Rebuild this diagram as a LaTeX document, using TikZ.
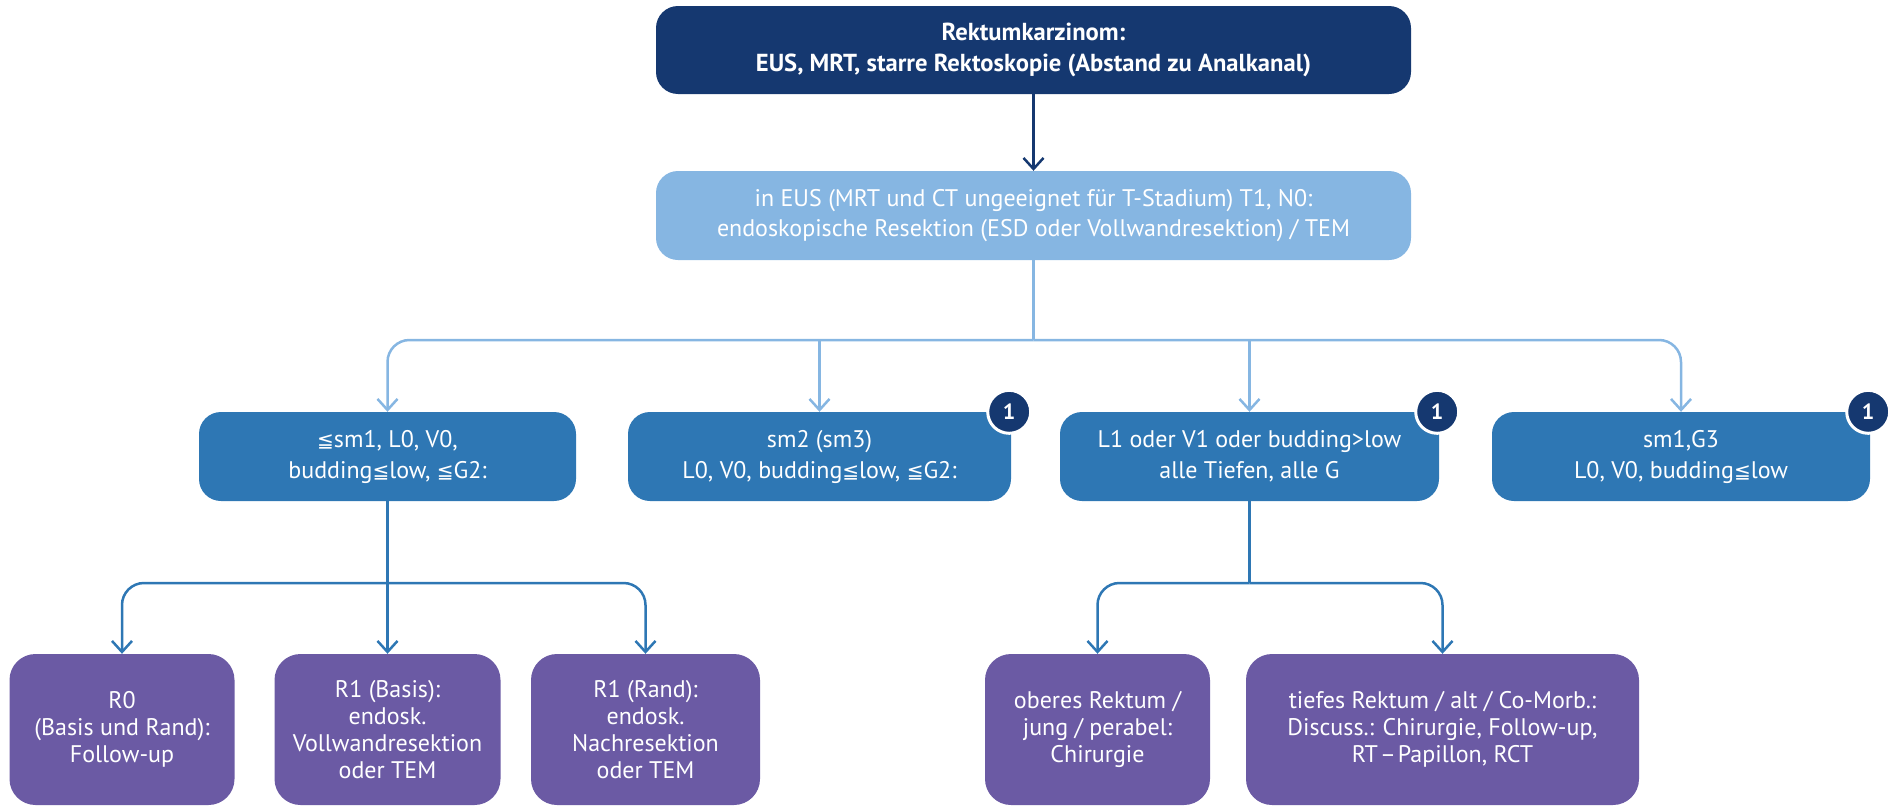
\documentclass[tikz,border=0pt]{standalone}
\usepackage{fontspec}
\setmainfont{PT Sans}
\newfontfamily\symf{DejaVu Sans}
\usetikzlibrary{arrows.meta}

\definecolor{navy}{HTML}{153870}
\definecolor{skyblue}{HTML}{86B6E2}
\definecolor{midblue}{HTML}{2E77B4}
\definecolor{violet}{HTML}{6B5AA4}

% "less than or equal" sign with double bar
\newcommand{\lessdbl}{{\symf\fontsize{20}{20}\selectfont ≦}}

\tikzset{
  basebox/.style={rounded corners=22pt, text=white, align=center, inner sep=0pt},
  headbox/.style={basebox, fill=navy, minimum width=755pt, minimum height=88pt,
    font=\fontsize{24.6}{31}\selectfont\bfseries},
  stagebox/.style={basebox, fill=skyblue, minimum width=755pt, minimum height=89pt,
    font=\fontsize{24}{30}\selectfont},
  splitbox/.style={basebox, fill=midblue, minimum height=89pt,
    font=\fontsize{24}{31}\selectfont},
  actionbox/.style={basebox, rounded corners=26pt, fill=violet, minimum height=151pt,
    font=\fontsize{24}{27}\selectfont},
  badge/.style={circle, fill=navy, draw=white, line width=3pt, minimum size=43pt,
    inner sep=0pt, text=white, font=\fontsize{22}{22}\selectfont\bfseries},
  conn/.style={line width=2.5pt, -{Straight Barb[length=11pt,width=20pt]}},
  trunk/.style={line width=2.5pt},
}

\begin{document}
\begin{tikzpicture}[x=1pt,y=-1pt]
\useasboundingbox (0,0) rectangle (1888,806);

% top level
\node[headbox] (top) at (1033.5,50) {Rektumkarzinom:\\EUS, MRT, starre Rektoskopie (Abstand zu Analkanal)};
\node[stagebox] (stage) at (1033.5,215.5) {in EUS (MRT und CT ungeeignet für T-Stadium) T1, N0:\\endoskopische Resektion (ESD oder Vollwandresektion) / TEM};

% second level
\node[splitbox, minimum width=377pt] (b1) at (387.5,456.5) {\lessdbl sm1, L0, V0,\\budding\lessdbl low, \lessdbl G2:};
\node[splitbox, minimum width=383pt] (b2) at (819.5,456.5) {sm2 (sm3)\\L0, V0, budding\lessdbl low, \lessdbl G2:};
\node[splitbox, minimum width=379pt] (b3) at (1249.5,456.5) {L1 oder V1 oder budding>low\\alle Tiefen, alle G};
\node[splitbox, minimum width=378pt] (b4) at (1681,456.5) {sm1,G3\\L0, V0, budding\lessdbl low};

% footnote markers
\node[badge] (m2) at ([xshift=-2pt]b2.north east) {1};
\node[badge] (m3) at ([xshift=-2pt]b3.north east) {1};
\node[badge] (m4) at ([xshift=-2pt]b4.north east) {1};

% third level
\node[actionbox, minimum width=225pt] (c1) at (122,729.5) {R0\\(Basis und Rand):\\Follow-up};
\node[actionbox, minimum width=226pt] (c2) at (387.5,729.5) {R1 (Basis):\\endosk.\\Vollwandresektion\\oder TEM};
\node[actionbox, minimum width=229pt] (c3) at (645.5,729.5) {R1 (Rand):\\endosk.\\Nachresektion\\oder TEM};
\node[actionbox, minimum width=225pt] (c4) at (1097.5,729.5) {oberes Rektum /\\jung / perabel:\\Chirurgie};
\node[actionbox, minimum width=393pt] (c5) at (1442.5,729.5) {tiefes Rektum / alt / Co-Morb.:\\Discuss.: Chirurgie, Follow-up,\\RT\kern2pt–\kern2pt Papillon, RCT};

% junction points
\coordinate (busA) at (1033.5,340);
\coordinate (busB) at (387.5,583);
\coordinate (busC) at (1249.5,583);

% connectors
\draw[conn, navy] (top) -- (stage);

\draw[trunk, skyblue] (stage.south) -- (busA);
\draw[conn, skyblue, rounded corners=22pt] (busA) -| (b1.north);
\draw[conn, skyblue, rounded corners=22pt] (busA) -| (b4.north);
\draw[conn, skyblue] (b2.north |- busA) -- (b2.north);
\draw[conn, skyblue] (b3.north |- busA) -- (b3.north);

\draw[trunk, midblue] (b1.south) -- (busB);
\draw[conn, midblue, rounded corners=22pt] (busB) -| (c1.north);
\draw[conn, midblue, rounded corners=22pt] (busB) -| (c3.north);
\draw[conn, midblue] (busB) -- (c2.north);

\draw[trunk, midblue] (b3.south) -- (busC);
\draw[conn, midblue, rounded corners=22pt] (busC) -| (c4.north);
\draw[conn, midblue, rounded corners=22pt] (busC) -| (c5.north);
\end{tikzpicture}
\end{document}
